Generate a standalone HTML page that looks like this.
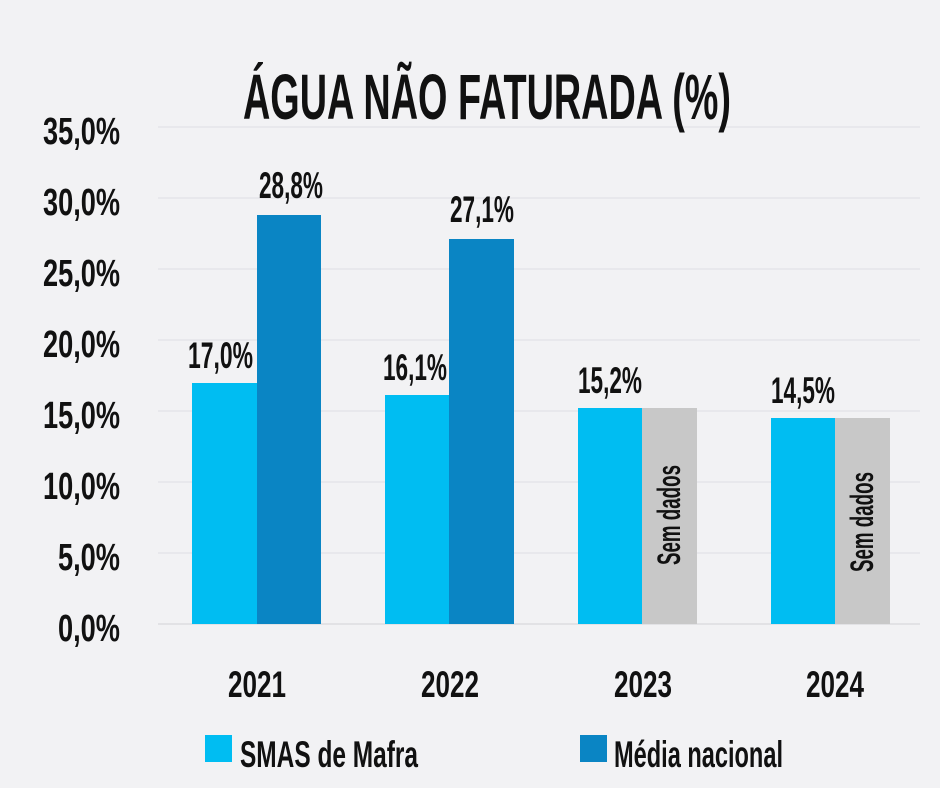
<!DOCTYPE html>
<html><head><meta charset="utf-8"><style>
html,body{margin:0;padding:0;background:#f2f2f4;}
svg{display:block;}
text{font-family:"Liberation Sans",sans-serif;font-weight:bold;fill:#111;}
</style></head><body>
<svg width="940" height="788" viewBox="0 0 940 788" xmlns="http://www.w3.org/2000/svg">
<rect width="940" height="788" fill="#f2f2f4"/>
<g stroke="#e2e2e6" stroke-width="1.2">
<line x1="158" x2="920" y1="127" y2="127"/>
<line x1="158" x2="920" y1="198" y2="198"/>
<line x1="158" x2="920" y1="269" y2="269"/>
<line x1="158" x2="920" y1="340" y2="340"/>
<line x1="158" x2="920" y1="411" y2="411"/>
<line x1="158" x2="920" y1="482" y2="482"/>
<line x1="158" x2="920" y1="553" y2="553"/>
<line x1="158" x2="920" y1="624" y2="624" stroke="#d8d8dc"/>
</g>
<text x="243" y="119" font-size="64" textLength="488" lengthAdjust="spacingAndGlyphs">ÁGUA NÃO FATURADA (%)</text>
<g font-size="38">
<text x="43" y="144" textLength="77" lengthAdjust="spacingAndGlyphs">35,0%</text>
<text x="43" y="215" textLength="77" lengthAdjust="spacingAndGlyphs">30,0%</text>
<text x="43" y="286" textLength="77" lengthAdjust="spacingAndGlyphs">25,0%</text>
<text x="43" y="357" textLength="77" lengthAdjust="spacingAndGlyphs">20,0%</text>
<text x="43" y="428" textLength="77" lengthAdjust="spacingAndGlyphs">15,0%</text>
<text x="43" y="499" textLength="77" lengthAdjust="spacingAndGlyphs">10,0%</text>
<text x="58" y="570" textLength="62" lengthAdjust="spacingAndGlyphs">5,0%</text>
<text x="58" y="641" textLength="62" lengthAdjust="spacingAndGlyphs">0,0%</text>
</g>
<rect x="192" y="383" width="65" height="241" fill="#00bdf2"/>
<rect x="257" y="215" width="64" height="409" fill="#0a85c4"/>
<rect x="385" y="395" width="64" height="229" fill="#00bdf2"/>
<rect x="449" y="239" width="65" height="385" fill="#0a85c4"/>
<rect x="578" y="408" width="64" height="216" fill="#00bdf2"/>
<rect x="642" y="408" width="55" height="216" fill="#c8c8c8"/>
<rect x="771" y="418" width="64" height="206" fill="#00bdf2"/>
<rect x="835" y="418" width="55" height="206" fill="#c8c8c8"/>
<g font-size="37">
<text x="188" y="368" textLength="65" lengthAdjust="spacingAndGlyphs">17,0%</text>
<text x="259" y="198" textLength="64" lengthAdjust="spacingAndGlyphs">28,8%</text>
<text x="383" y="380" textLength="64" lengthAdjust="spacingAndGlyphs">16,1%</text>
<text x="450" y="222" textLength="64" lengthAdjust="spacingAndGlyphs">27,1%</text>
<text x="578" y="393" textLength="64" lengthAdjust="spacingAndGlyphs">15,2%</text>
<text x="771" y="403" textLength="64" lengthAdjust="spacingAndGlyphs">14,5%</text>
</g>
<g font-size="32">
<text transform="translate(680,565) rotate(-90)" textLength="100" lengthAdjust="spacingAndGlyphs">Sem dados</text>
<text transform="translate(873,572) rotate(-90)" textLength="100" lengthAdjust="spacingAndGlyphs">Sem dados</text>
</g>
<g font-size="37">
<text x="228" y="697" textLength="58" lengthAdjust="spacingAndGlyphs">2021</text>
<text x="421" y="697" textLength="58" lengthAdjust="spacingAndGlyphs">2022</text>
<text x="614" y="697" textLength="58" lengthAdjust="spacingAndGlyphs">2023</text>
<text x="806" y="697" textLength="58" lengthAdjust="spacingAndGlyphs">2024</text>
</g>
<rect x="205" y="735" width="27" height="27" fill="#00bdf2"/>
<rect x="580" y="735" width="27" height="27" fill="#0a85c4"/>
<g font-size="37">
<text x="240" y="767" textLength="178" lengthAdjust="spacingAndGlyphs">SMAS de Mafra</text>
<text x="614" y="767" textLength="169" lengthAdjust="spacingAndGlyphs">Média nacional</text>
</g>
</svg>
</body></html>
